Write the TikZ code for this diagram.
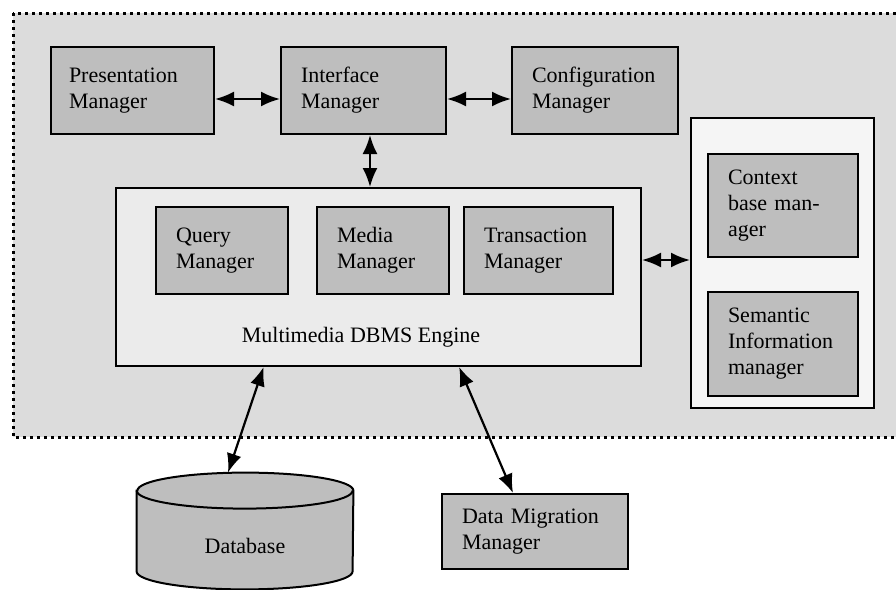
\documentclass[tikz,border=0pt]{standalone}
\usepackage{fontspec}
\setmainfont{Liberation Serif}
\usepackage{tikz}
\usetikzlibrary{shapes.geometric, arrows.meta, positioning, calc}
\definecolor{zonegray}{HTML}{DCDCDC}
\definecolor{boxgray}{HTML}{BEBEBE}
\definecolor{panelgray}{HTML}{EBEBEB}

\begin{document}
\begin{tikzpicture}[
  x=0.5pt, y=-0.5pt,
  mgr/.style={draw, line width=1pt, fill=boxgray, anchor=north west, align=left,
              inner xsep=10pt, inner ysep=0pt, font=\fontsize{11}{13}\selectfont},
  panel/.style={draw, line width=1pt, fill=panelgray, anchor=north west, inner sep=0pt},
  arr/.style={{Latex[length=9.5pt,width=7.5pt]}-{Latex[length=9.5pt,width=7.5pt]}, line width=1.1pt},
  drumcap/.style={x radius=54pt, y radius=9pt},
]
  \clip (0,0) rectangle (896,590);
  \fill[white] (0,0) rectangle (896,590);
  \draw[fill=zonegray, line width=1.5pt, dash pattern=on 1.5pt off 2pt] (13,13) rectangle (930,437);

  \node[mgr, minimum width=81.5pt, minimum height=43.5pt, text width=63.5pt, inner xsep=9pt] (pres) at (50,46) {Presentation\\Manager};
  \node[mgr, minimum width=82.5pt, minimum height=43.5pt, text width=62.5pt] (iface) at (280,46) {Interface\\Manager};
  \node[mgr, minimum width=83pt, minimum height=43.5pt, text width=63pt] (config) at (511,46) {Configuration\\Manager};

  \node[panel, minimum width=262.5pt, minimum height=89pt] (engine) at (115,187) {};
  \node[mgr, minimum width=66pt, minimum height=43.5pt, text width=46pt] (query) at (155,206) {Query\\Manager};
  \node[mgr, minimum width=66pt, minimum height=43.5pt, text width=46pt] (media) at (316,206) {Media\\Manager};
  \node[mgr, minimum width=74.5pt, minimum height=43.5pt, text width=54.5pt] (trans) at (463,206) {Transaction\\Manager};
  \node[font=\fontsize{11}{13}\selectfont] (enginetxt) at (361,337) {Multimedia DBMS Engine};

  \node[panel, fill=white!96!black, minimum width=91.5pt, minimum height=145pt] (ctxpanel) at (690,117) {};
  \node[mgr, minimum width=75pt, minimum height=51.5pt, text width=55pt] (context) at (707,153) {Context\\base man-\\ager};
  \node[mgr, minimum width=75pt, minimum height=52pt, text width=55pt] (semantic) at (707,291) {Semantic\\Information\\manager};

  % database drum
  \node[minimum width=108pt, minimum height=58pt, inner sep=0pt] (db) at (245,531) {};
  \draw[line width=1pt, fill=boxgray] ([yshift=-9pt]db.north west) -- ([yshift=9pt]db.south west)
    arc[start angle=180, end angle=360, drumcap] -- ([yshift=-9pt]db.north east)
    arc[start angle=0, end angle=180, drumcap] -- cycle;
  \draw[line width=1pt] ([yshift=-9pt]db.north west) arc[start angle=180, end angle=360, drumcap];
  \node[font=\fontsize{11}{13}\selectfont] (dbtxt) at ([yshift=-7.5pt]db.center) {Database};

  \node[mgr, minimum width=93pt, minimum height=37.5pt, text width=73pt] (migration) at (441,493) {Data Migration\\Manager};

  \draw[arr] ([yshift=-4.25pt]pres.east) -- ([yshift=-4.25pt]iface.west);
  \draw[arr] ([yshift=-4.25pt]iface.east) -- ([yshift=-4.25pt]config.west);
  \draw[arr] ([xshift=3.25pt]iface.south) -- ([xshift=3.25pt]iface.south |- engine.north);
  \draw[arr] ([yshift=8.5pt]engine.east) -- ([yshift=8.5pt]engine.east -| ctxpanel.west);
  \draw[arr] ($(engine.south west)!0.282!(engine.south east)$) -- ([xshift=-8.5pt]db.north);
  \draw[arr] ($(engine.south west)!0.653!(engine.south east)$) -- ([xshift=-11pt]migration.north);
\end{tikzpicture}
\end{document}
